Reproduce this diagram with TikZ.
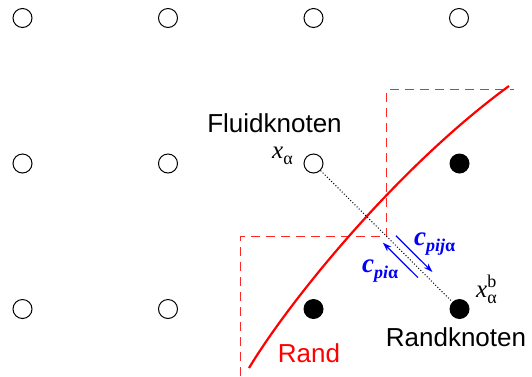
\documentclass[tikz,border=0pt]{standalone}
\usepackage{fontspec}
\setmainfont{Liberation Sans}
\newfontfamily\seriffont{Liberation Serif}
\usetikzlibrary{calc,arrows.meta}
\newcommand\lowsub[1]{\raisebox{-6pt}{\fontsize{18}{18}\selectfont #1}}
\newcommand\lowsubs[1]{\raisebox{-6pt}{\fontsize{18}{18}\selectfont #1}}
\begin{document}
\begin{tikzpicture}[x=1pt,y=-1pt,
  fluid/.style={circle,draw=black,line width=1pt,fill=white,minimum size=19pt,inner sep=0pt},
  wall/.style={circle,fill=black,minimum size=20pt,inner sep=0pt},
  cell/.style={red!85,line width=1.2pt,dash pattern=on 9pt off 6pt},
  blueArrow/.style={blue,line width=1.2pt,-{Stealth[length=9pt,width=6pt]}},
  lbl/.style={font=\fontsize{26}{26}\selectfont,inner sep=0pt,anchor=base},
  mlbl/.style={font=\fontsize{25}{25}\selectfont\seriffont,inner sep=0pt,anchor=base west},
  clbl/.style={blue,font=\fontsize{27}{27}\selectfont\seriffont\bfseries\itshape,inner sep=0pt,anchor=base west}]
\useasboundingbox (0,0) rectangle (532,376);
% grid nodes
\node[fluid] (n00) at (22.5,18) {};
\node[fluid] (n10) at (168,18) {};
\node[fluid] (n20) at (313.5,18) {};
\node[fluid] (n30) at (459,18) {};
\node[fluid] (n01) at (22.5,163.5) {};
\node[fluid] (n11) at (168,163.5) {};
\node[fluid] (f) at (313.5,163.5) {};
\node[wall] (n31) at (459.5,163.5) {};
\node[fluid] (n02) at (22.5,309) {};
\node[fluid] (n12) at (168,309) {};
\node[wall] (n22) at (313.5,309) {};
\node[wall] (b) at (459.5,309) {};
% cell boundaries
\draw[cell] (240.5,376) -- (240.5,236.5) -- (386.5,236.5);
\draw[cell] (386.5,236.5) -- (386.5,89.5) -- (514,89.5);
% boundary curve
\draw[red,line width=2.2pt] (249,368) .. controls (290,300) and (398,167) .. (509,86);
% link
\draw[dotted,line width=1pt] (f) -- (b);
\coordinate (u1) at ($(f)!0.53!(b)+(5,-5)$);
\coordinate (u2) at ($(f)!0.78!(b)+(5,-5)$);
\coordinate (l1) at ($(f)!0.51!(b)+(-5,5)$);
\coordinate (l2) at ($(f)!0.75!(b)+(-5,5)$);
\draw[blueArrow] (u1) -- (u2);
\draw[blueArrow] (l2) -- (l1);
% labels
\node[lbl] (tf) at (274.5,132) {Fluidknoten};
\node[lbl] (tb) at (456,346) {Randknoten};
\node[lbl,red] (tr) at (309,362) {Rand};
\node[mlbl] (xa) at (272,158) {\itshape x\lowsub{\upshape α}};
\node[mlbl] (xb) at (476,297) {\itshape x\rlap{\raisebox{10pt}{\fontsize{18}{18}\selectfont\upshape b}}\lowsub{\upshape α}};
\node[clbl] (c1) at (414,245) {c\lowsubs{pij\upshape α}};
\node[clbl] (c2) at (362,272) {c\lowsubs{pi\upshape α}};
\end{tikzpicture}
\end{document}
